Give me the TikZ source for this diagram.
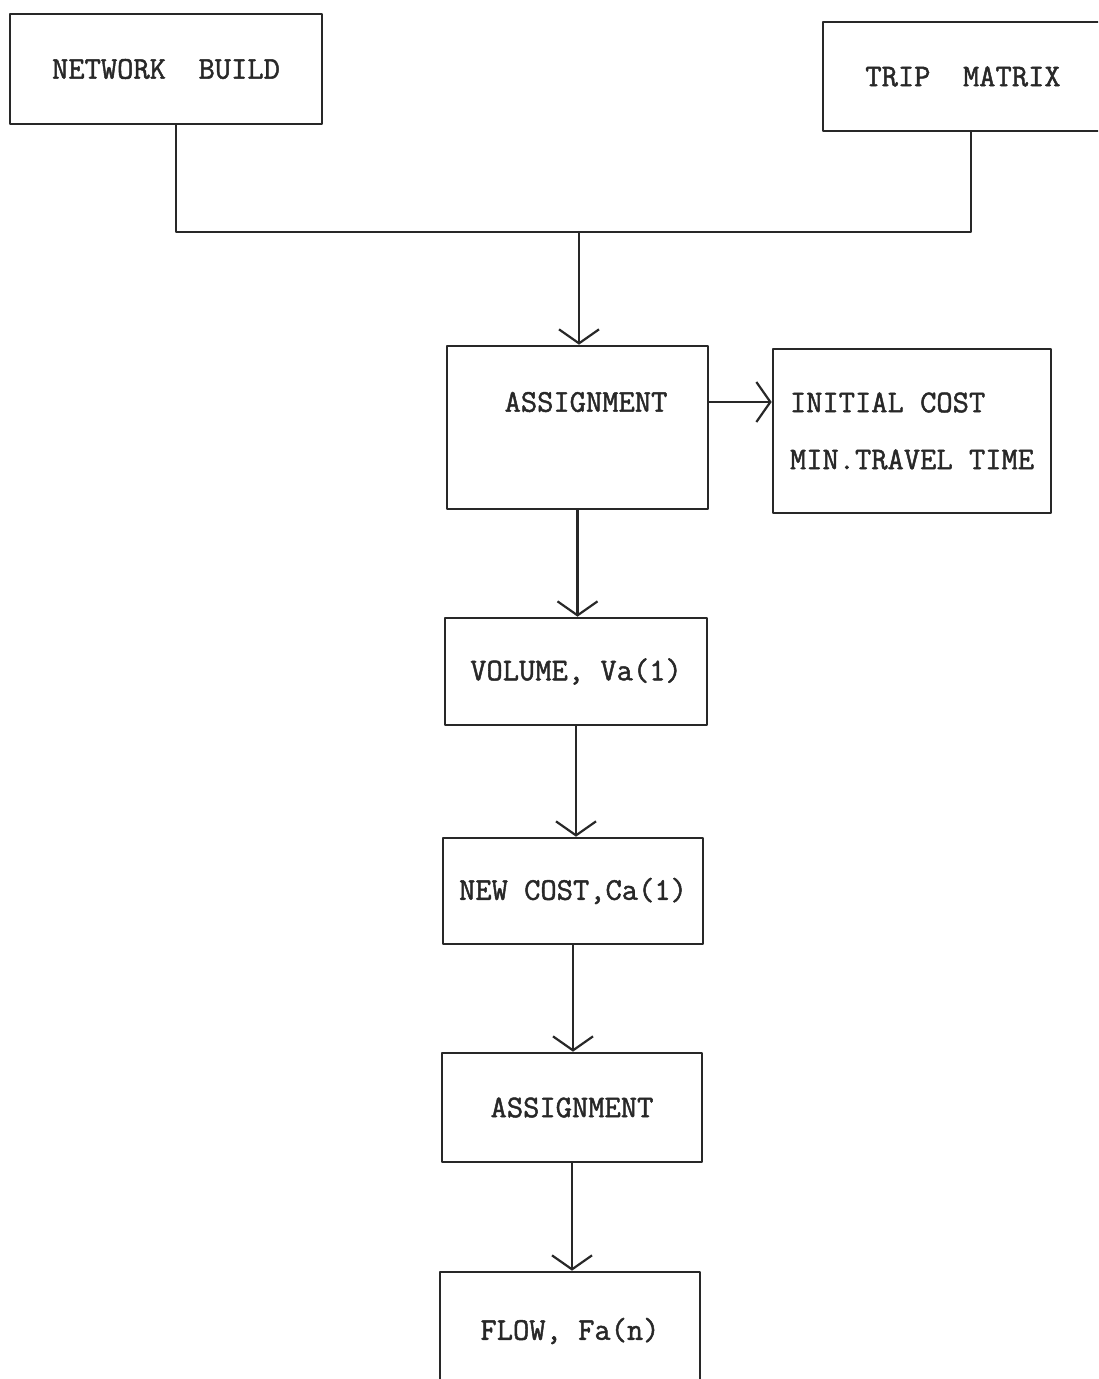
\documentclass[tikz,border=0pt]{standalone}
\usepackage{fontspec}
\usetikzlibrary{arrows.meta}
\newfontfamily\typefont{Latin Modern Mono}[FakeBold=1.5]
\definecolor{inkgray}{RGB}{40,40,40}

\begin{document}
\begin{tikzpicture}[x=0.5pt,y=-0.5pt,line cap=round,line join=round,
    box/.style={draw=inkgray,line width=1.3pt,inner sep=0pt,
        font=\typefont\fontsize{15.8}{18}\selectfont,text=inkgray},
    lbl/.style={inner sep=0pt,font=\typefont\fontsize{15.8}{18}\selectfont,text=inkgray},
    link/.style={draw=inkgray,line width=1.1pt},
    flow/.style={link,-{Straight Barb[length=7pt,width=20pt,line width=1.1pt]}}]
        \useasboundingbox (0,0) rectangle (1098,1379);
        \clip (0,0) rectangle (1098,1379);

        \node[box,minimum width=156pt,minimum height=55pt] (net) at (166,69)
            {NETWORK\ \ BUILD};
        \node[box,minimum width=140pt,minimum height=54.5pt] (trip) at (963,76.5)
            {TRIP\ \ MATRIX};

        \coordinate (join) at (579,232);
        \draw[link] ([xshift=5pt]net.south) |- (join) -| ([xshift=4pt]trip.south);

        \node[box,minimum width=130.5pt,minimum height=81.5pt] (assignA) at (577.5,427.5) {};
        \node[lbl] (assignAlbl) at (586,402) {ASSIGNMENT};
        \node[box,minimum width=139pt,minimum height=82pt,align=left] (init) at (912,431)
            {INITIAL COST\\[10.5pt]MIN.TRAVEL TIME};

        \node[box,minimum width=131pt,minimum height=53.5pt] (vol) at (576,671.5)
            {VOLUME, Va(1)};
        \node[box,minimum width=130pt,minimum height=53pt] (newcost) at (573,891)
            {NEW COST,Ca(1)};
        \node[box,minimum width=130pt,minimum height=54.5pt] (assignB) at (572,1107.5)
            {ASSIGNMENT};
        \node[box,minimum width=130pt,minimum height=59pt] (flowbox) at (570,1331)
            {FLOW, Fa(n)};

        \draw[flow] (join) -- (join |- assignA.north);
        \draw[flow] (assignA.east |- assignAlbl) -- (init.west |- assignAlbl);
        \draw[flow] (assignA.south) -- (assignA.south |- vol.north);
        \draw[flow] (vol.south) -- (vol.south |- newcost.north);
        \draw[flow] (newcost.south) -- (newcost.south |- assignB.north);
        \draw[flow] (assignB.south) -- (assignB.south |- flowbox.north);
    \end{tikzpicture}
\end{document}
